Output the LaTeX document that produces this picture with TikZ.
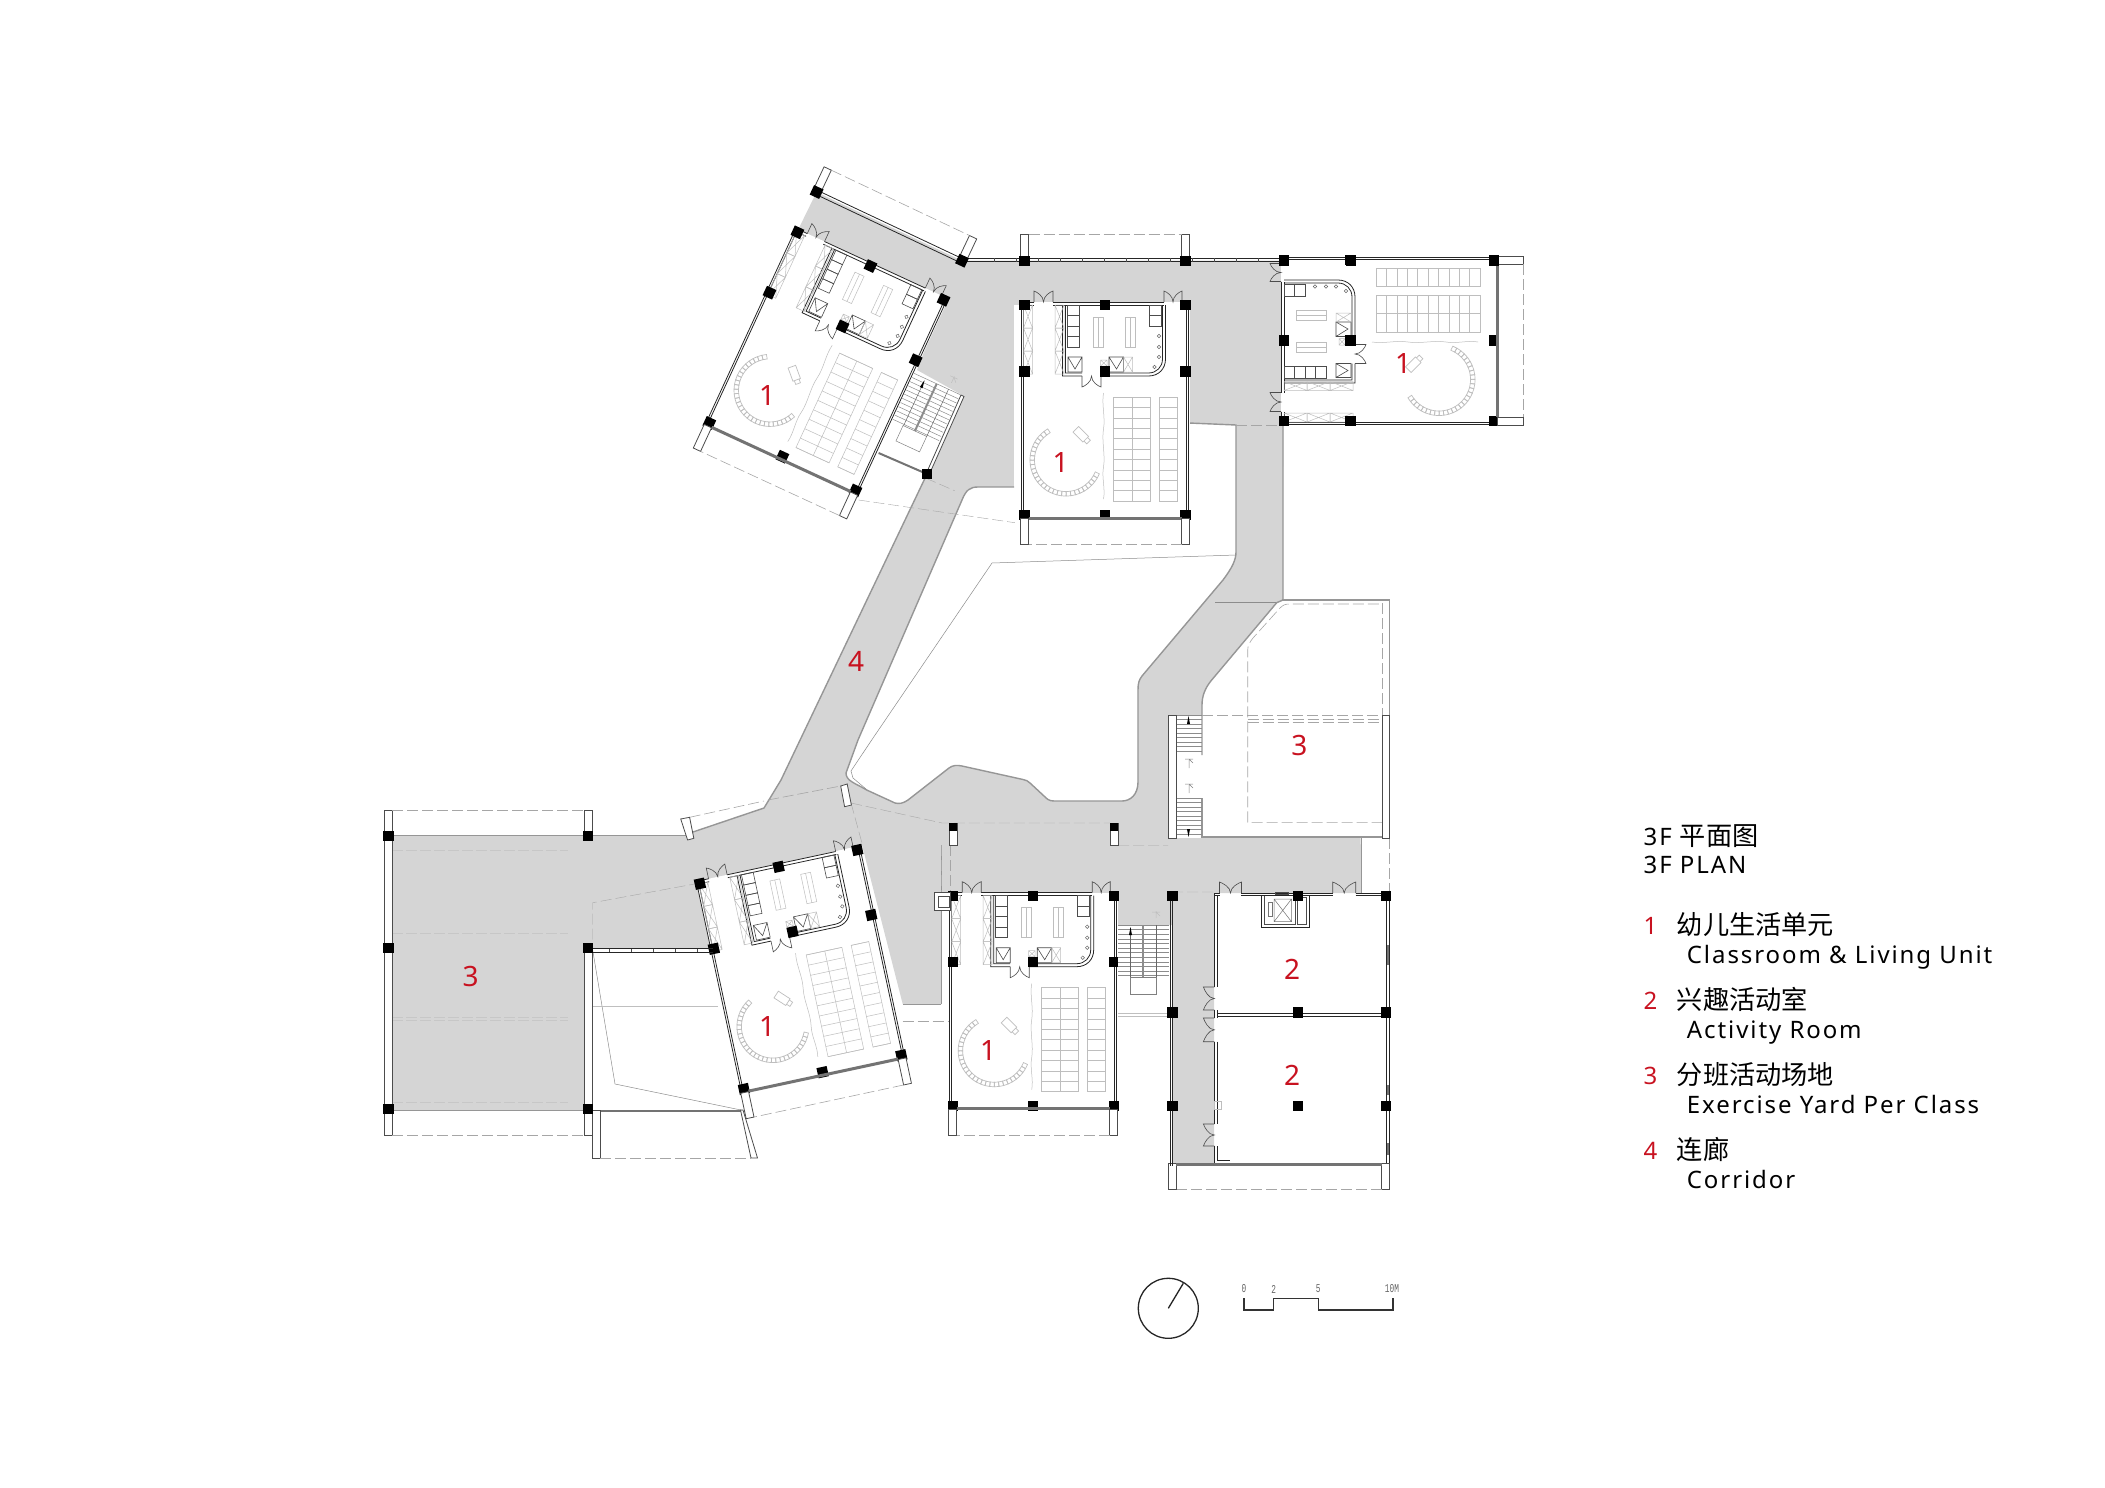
\documentclass[tikz,border=0pt]{standalone}
\usepackage{fontspec}
\setmainfont[LetterSpace=8]{Noto Sans}
\newfontfamily\cjk{Noto Sans CJK SC}
\newfontfamily\scalefont{Liberation Mono}
\definecolor{planred}{RGB}{200,18,32}
\definecolor{corridor}{RGB}{213,213,213}
\definecolor{furn}{RGB}{190,190,190}
\definecolor{edgegray}{RGB}{150,150,150}
\newcommand{\pillar}[2]{\fill[black] (#1-5.2,#2-5.2) rectangle (#1+5.2,#2+5.2);}
\tikzset{
  wall/.style={line width=.8pt,black!85},
  thinwall/.style={line width=.6pt,black!70},
  frame/.style={line width=.8pt,black!70,fill=white},
  fitting/.style={line width=.5pt,furn},
  locker/.style={line width=.6pt,black!70},
  edge/.style={line width=1.4pt,edgegray},
  faint/.style={line width=.5pt,black!45},
  dashline/.style={line width=.6pt,black!35,dash pattern=on 11pt off 4pt},
  yardline/.style={line width=.6pt,black!22,dash pattern=on 11pt off 3pt},
  glaze/.style={line width=3pt,black!55},
  roomno/.style={font=\fontsize{28}{30}\selectfont,text=planred},
  legend/.style={font=\fontsize{24}{28}\selectfont,anchor=base west,inner sep=0pt},
  legendno/.style={legend,text=planred},
  cnname/.style={legend,font=\cjk\fontsize{26.2}{30}\selectfont},
  rulelabel/.style={font=\scalefont\fontsize{12}{12}\selectfont,xscale=.65,transform shape,text=black!60,inner sep=0pt},
  leafpair/.pic={
    \draw[thinwall] (0,0) -- (0,-11) .. controls (3,-10) and (#1/2,-6) .. (#1/2,0)
      .. controls (#1/2,-6) and (#1-3,-10) .. (#1,-11) -- (#1,0);
  },
  balcony/.pic={
    \draw[frame] (-4,0) rectangle (4,-26);
    \draw[frame] (#1-4,0) rectangle (#1+4,-26);
    \draw[dashline] (4,-26) -- (#1-4,-26);
  },
  stairset/.pic={
    \fill[white] (0,0) rectangle (51,69);
    \foreach \y in {0,4.6,...,52}
      \draw[line width=.5pt,black!45] (0,\y) -- (51,\y);
    \draw[line width=.5pt,black!50] (12,52) rectangle (38,69);
    \draw[line width=2pt,black!45] (25,0) -- (25,52);
    \draw[line width=.5pt,black!60] (38,0) -- (38,52);
    \draw[line width=.5pt,black!60] (12.5,3) -- (12.5,52);
    \fill[black] (12.5,2) -- (11,10) -- (14,10) -- cycle;
    \draw[fitting] (38,-7) -- (38,-14) (34,-13) -- (42,-13) (38,-13) -- (42,-9);
  },
  classunit/.pic={
    \fill[white] (-3,-3) rectangle (165,214);
    \draw[wall] (-3,-3) -- (9.5,-3) (28.5,-3) -- (139.5,-3) (157.5,-3) -- (164,-3);
    \draw[wall] (-3,0) -- (9.5,0) (28.5,0) -- (139.5,0) (157.5,0) -- (164,0);
    \pic[transform shape] at (9.5,-3) {leafpair=19};
    \pic[transform shape] at (139.5,-3) {leafpair=18};
    \draw[wall] (-3,-3) -- (-3,214) (-1,0) -- (-1,214);
    \draw[wall] (162,0) -- (162,214) (164,-3) -- (164,214);
    \draw[wall] (38,0) -- (38,71) -- (57.5,71) (76.5,71) -- (124,71) .. controls (134,71) and (141,64) .. (141,54) -- (141,0);
    \draw[wall] (41,0) -- (41,68) -- (57.5,68) (76.5,68) -- (124,68) .. controls (132,68) and (138,62) .. (138,54) -- (138,0);
    \pic[rotate=180,transform shape] at (76.5,71) {leafpair=19};
    \foreach \y in {0,10.5,21,31.5} \draw[locker] (42.5,\y) rectangle (54.5,\y+10.5);
    \foreach \y in {0,10.5} \draw[locker] (125,\y) rectangle (137,\y+10.5);
    \draw[fitting] (69,12) rectangle (79,42) (74,12) -- (74,42);
    \draw[fitting] (100.5,12) rectangle (110.5,42) (105.5,12) -- (105.5,42);
    \draw[locker] (43.5,52) rectangle (57.5,67) (43.5,52) -- (50.5,64) -- (57.5,52);
    \draw[locker] (84.5,52) rectangle (99,67) (84.5,52) -- (92,64) -- (99,52);
    \draw[fitting] (99,52) rectangle (108,67) (99,52) -- (108,67) (99,67) -- (108,52);
    \draw[fitting] (76,55) rectangle (82.5,61) (76,55) -- (82.5,61) (76,61) -- (82.5,55);
    \foreach \y in {31,42,52} \draw[line width=.5pt,black!60] (134.5,\y) circle (1.8);
    \draw[line width=.5pt,black!60] (130,62) circle (1.8);
    \foreach \x in {-1,30.5} {
      \foreach \y in {0,23,46}
        \draw[fitting] (\x,\y) rectangle (\x+9,\y+23) (\x,\y) -- (\x+9,\y+23) (\x,\y+23) -- (\x+9,\y);
    }
    \foreach \y in {92,102.4,...,196} {
      \draw[fitting] (89,\y) -- (125.5,\y);
      \draw[fitting] (135,\y) -- (153,\y);
    }
    \draw[fitting] (89,92) rectangle (125.5,196) (108,92) -- (108,196);
    \draw[fitting] (135,92) rectangle (153,196);
    \draw[fitting] (79,88) .. controls (77,100) and (81,112) .. (79,124) .. controls (77,136) and (81,150) .. (79,162) .. controls (77,172) and (81,184) .. (79,194);
    \draw[fitting,line width=.7pt,shift={(57,130)},rotate=-45] (-8,-4) rectangle (6,4) (6,-2.5) rectangle (10,2.5);
    \foreach \a in {26,33.5,...,237}
      \draw[fitting,line width=.7pt,shift={(41.5,155)},rotate=-\a] (31.5,-2.2) rectangle (36,2.2);
    \foreach \x in {0,80.5,161} {
      \foreach \y in {0,66.5,210} { \pillar{\x}{\y} }
    }
    \draw[glaze] (4,213) -- (157,213);
    \pic[rotate=180,transform shape] at (161,213.5) {balcony=161};
  }
}
\begin{document}
\begin{tikzpicture}[x=1pt,y=-1pt]
  \useasboundingbox (0,0) rectangle (2105,1488);
  \fill[corridor] (816.6,192) -- (962,260.7) -- (1283.6,260.7) -- (1283,600) -- (1276.7,602.7) -- (1211.7,680)
    .. controls (1205,688) and (1202,696) .. (1202,705) -- (1202,715) -- (1168,715) -- (1168,838) -- (1360.7,838)
    -- (1361,893) -- (1214,893) -- (1214,1163) -- (1173,1163) -- (1173,925) -- (1118,925) -- (1116,893) -- (941,893)
    -- (941,1004) -- (902.7,1004) -- (862,845) -- (700,883) -- (713,948) -- (584,948) -- (584,1110) -- (392,1110)
    -- (392,835) -- (688,835) -- (693,832) -- (764,808) -- (781,780) -- (927,474) -- (962,395) -- (917,370)
    -- (943.8,300) -- (797,232) -- cycle;
  \fill[white] (1014,305) -- (1188,305) -- (1189,423) -- (1236,425) -- (1236,552) .. controls (1236,560) and (1232,568) .. (1223,580)
    -- (1142,676) .. controls (1139,680) and (1138,683) .. (1138,690) -- (1138,782) .. controls (1138,795) and (1130,801) .. (1122,801)
    -- (1054,801) .. controls (1049,801) and (1047,799) .. (1044,796) -- (1030,783) .. controls (1028,781) and (1026,780) .. (1023,779.5)
    -- (962,766) .. controls (957,765) and (953,765) .. (949,768) -- (908,800) .. controls (903,803.5) and (899,804) .. (895,803)
    -- (866.7,790) .. controls (855,783) and (846,781) .. (846,773) -- (858,740)
    -- (962,500) .. controls (966,490) and (970,487) .. (978,487) -- (1014,487) -- cycle;
  \draw[edge] (1189,423) -- (1236,425) -- (1236,552) .. controls (1236,560) and (1232,568) .. (1223,580)
    -- (1142,676) .. controls (1139,680) and (1138,683) .. (1138,690) -- (1138,782) .. controls (1138,795) and (1130,801) .. (1122,801)
    -- (1054,801) .. controls (1049,801) and (1047,799) .. (1044,796) -- (1030,783) .. controls (1028,781) and (1026,780) .. (1023,779.5)
    -- (962,766) .. controls (957,765) and (953,765) .. (949,768) -- (908,800) .. controls (903,803.5) and (899,804) .. (895,803)
    -- (866.7,790) .. controls (855,783) and (846,781) .. (846,773) -- (858,740)
    -- (962,500) .. controls (966,490) and (970,487) .. (978,487) -- (1014,487);
  \draw[edge] (781,780) -- (927,474) (693,832) -- (764,808) -- (781,780);
  \draw[edge] (1283,425) -- (1283,600) -- (1276.7,602.7) -- (1211.7,680) .. controls (1205,688) and (1202,696) .. (1202,705) -- (1202,755);
  \draw[edge] (1202,798) -- (1202,837) -- (1382,837);
  \draw[edge] (1281.7,600) -- (1389.3,600) -- (1389.3,715);
  \draw[edge,line width=1pt] (1361,838) -- (1361,893) (392,835) -- (688,835);
  \draw[edge,line width=1pt] (941,1004) -- (902.7,1004) (941,1004) -- (941,845);
  \draw[faint] (1236,555) -- (992,563) -- (871.7,740) -- (851,771) -- (853,778) -- (866,789);
  \draw[faint] (1215,602.7) -- (1276,602.7);
  \draw[faint] (592.7,950) -- (615,1084) -- (741,1110);
  \draw[faint,black!25,line width=.8pt] (592.7,1006.7) -- (717.5,1006.7);
  \draw[faint,black!25,line width=.8pt] (1118,1013) -- (1169,1013) (1118,1016) -- (1169,1016);
  \draw[dashline] (1236,425) -- (1283,425);
  \draw[dashline,line width=.4pt] (858.6,500) -- (1014.8,522.7) (925.5,478) -- (954.6,490.7);
  \draw[dashline,line width=.4pt] (851,803) -- (942,823) -- (957,823) -- (1110,823);
  \draw[dashline,line width=.4pt] (1118,845.7) -- (1168,845.7) (851,803) -- (862.5,845);
  \draw[dashline,line width=.4pt] (950,845) -- (950,893) (941,845) -- (941,893) (902.7,1020.7) -- (950,1020.7);
  \draw[dashline,line width=.4pt] (1172,892) -- (1214,892) (700,883) -- (592.7,902.7) -- (592.7,948);
  \draw[dashline] (689.6,817.3) -- (764,801) (768,800) -- (840.7,786);
  \draw[dashline] (1389,838) -- (1389,893);
  \foreach \y in {850,933.3,1017,1020,1102.7}
    \draw[yardline] (392,\y) -- (568,\y);
  % yard on the right
  \draw[dashline] (1202,715) -- (1382.7,715) (1247.7,719.3) -- (1382.7,719.3) (1247.7,722.7) -- (1382.7,722.7);
  \draw[dashline] (1382.7,603) -- (1382.7,715);
  \draw[dashline] (1382.7,822.3) -- (1247.7,822.3) -- (1247.7,650) .. controls (1247.7,645) and (1250,642) .. (1253,638) -- (1280,608) .. controls (1283,605) and (1285,604) .. (1290,604) -- (1382.7,604);
  \draw[frame] (1168,715) rectangle (1176.7,838);
  \draw[frame] (1382.7,715) rectangle (1389.3,838);
  \foreach \y in {715,719.5,...,755} \draw[line width=.5pt,black!45] (1176.7,\y) -- (1201.7,\y);
  \foreach \y in {798,802.5,...,838} \draw[line width=.5pt,black!45] (1176.7,\y) -- (1201.7,\y);
  \fill[black] (1188.5,716) -- (1187,724) -- (1190,724) -- cycle;
  \fill[black] (1188.5,837) -- (1187,829) -- (1190,829) -- cycle;
  \draw[fitting,black!50] (1189,760) -- (1189,768) (1185,759) -- (1193,759) (1189,759) -- (1193,763);
  \draw[fitting,black!50] (1189,785) -- (1189,793) (1185,784) -- (1193,784) (1189,784) -- (1193,788);
  % classroom units
  \pic[rotate=-24.8] at (797.4,232.3) {classunit};
  \pic at (1024.5,305) {classunit};
  \pic[rotate=90] at (1284,421) {classunit};
  \pic[rotate=12.1] at (699.9,883.7) {classunit};
  \pic at (952.7,895.7) {classunit};
  % stairs
  \pic[rotate=-24.8] at (914,373.3) {stairset};
  \pic at (1118,925) {stairset};
  \draw[frame] (961,395) -- (964,396.5) -- (929,475) -- (926,474) -- cycle;
  \draw[glaze,line width=2pt] (878.6,453) -- (927,474);
  % balconies and facades
  \pic at (1024.5,260.7) {balcony=161};
  \pic[rotate=-25.3] at (816.6,192) {balcony=160.8};
  \pic[rotate=180] at (1385.7,1163) {balcony=213};
  \draw[wall] (816.6,190) -- (962,258.5) (815,194) -- (960,262.5);
  \draw[wall] (962,258) -- (1284,258) (962,261.5) -- (1284,261.5);
  \foreach \x in {994,1016,...,1280} \draw[thinwall] (\x,258) -- (\x,261.5);
  \draw[frame] (384.5,810) rectangle (392,1135);
  \draw[frame] (584,810) rectangle (592.7,836);
  \draw[frame] (584,948) rectangle (592.7,1135);
  \draw[dashline] (392,810) -- (584,810) (392,1135) -- (584,1135);
  \draw[edge,line width=1pt] (392,1110) -- (584,1110);
  \draw[wall] (592.7,948.5) -- (713,948.5) (592.7,952) -- (713,952);
  \foreach \x in {609,631,...,700} \draw[thinwall] (\x,948.5) -- (\x,952);
  \draw[glaze,line width=2pt] (592.7,1111) -- (741,1111);
  \draw[frame] (592.7,1110) rectangle (600.4,1158);
  \draw[frame] (740.5,1110) -- (743,1110) -- (757.5,1158) -- (751,1158) -- cycle;
  \draw[dashline] (600.4,1158) -- (751,1158);
  \draw[frame] (680.7,819) -- (689.6,817.3) -- (693.8,838.3) -- (687.6,840) -- cycle;
  \draw[frame] (840.7,786) -- (847.2,784) -- (851.4,805) -- (844.6,806.7) -- cycle;
  \draw[frame] (949,823) rectangle (957,845.7);
  \draw[frame] (1110,823) rectangle (1118,845.7);
  \draw[frame] (934.5,892.7) rectangle (950.7,910.7);
  \draw[frame] (938,896.7) rectangle (949,907.3);
  \fill[black] (949,823) rectangle (957,831);
  \fill[black] (1110,823) rectangle (1118,831);
  % activity rooms
  \fill[white] (1214.5,895) rectangle (1387,1163);
  \draw[wall] (1170,895) -- (1170,1166) (1172.5,895) -- (1172.5,1166);
  \draw[wall] (1214.4,893) -- (1214.4,987) (1214.4,1010) -- (1214.4,1018) (1214.4,1041.7) -- (1214.4,1124) (1214.4,1146) -- (1214.4,1163) -- (1230,1163);
  \draw[wall] (1217,895) -- (1217,987) (1217,1010) -- (1217,1018) (1217,1041.7) -- (1217,1124) (1217,1146) -- (1217,1160) -- (1230,1160);
  \draw[wall] (1214.4,893) -- (1219.5,893) (1241.4,893) -- (1332.7,893) (1355.7,893) -- (1389,893);
  \draw[wall] (1214.4,895.7) -- (1219.5,895.7) (1241.4,895.7) -- (1332.7,895.7) (1355.7,895.7) -- (1389,895.7);
  \pic at (1219.5,893) {leafpair=22};
  \pic at (1332.7,893) {leafpair=23};
  \pic[rotate=90] at (1214.4,1010) {leafpair=23};
  \pic[rotate=90] at (1214.4,1041.7) {leafpair=23.7};
  \pic[rotate=90] at (1214.4,1146) {leafpair=22};
  \draw[wall] (1217,1013) -- (1386,1013) (1217,1016) -- (1386,1016);
  \draw[wall] (1386.8,895) -- (1386.8,1163) (1389.2,895) -- (1389.2,1163);
  \draw[glaze] (1176,1164.5) -- (1382,1164.5);
  \draw[glaze,line width=2.4pt] (1388,945) -- (1388,965) (1388,1085) -- (1388,1095) (1388,1143) -- (1388,1155);
  \draw[fitting] (1214,1101.7) rectangle (1221,1109);
  \draw[wall] (1261,895.7) -- (1261,927.7) -- (1309.7,927.7) -- (1309.7,895.7);
  \draw[thinwall] (1264.4,895.7) -- (1264.4,924) -- (1295,924) -- (1295,895.7);
  \draw[thinwall] (1297,897) rectangle (1306.7,924);
  \draw[line width=.5pt,black!55] (1274,899) rectangle (1291.5,921.7) (1274,899) -- (1291.5,921.7) (1274,921.7) -- (1291.5,899);
  \draw[line width=.5pt,black!55] (1268.5,902.7) rectangle (1272,916.7);
  \draw[thinwall] (1275,892) rectangle (1288,894.5);
  % columns
  \foreach \x/\y in {388.4/836,588/836,388.4/948,588/948,388.4/1109,588/1109,
    1172.5/895.7,1298/895.7,1385.8/895.7,1172.5/1012.3,1298/1012.3,1385.8/1012.3,
    1172.5/1105.7,1298/1105.7,1385.8/1105.7,1024.5/260.7,1185.5/260.7,1284/260.7,1350.7/260.7,1494/260.7,
    927/474}
    { \pillar{\x}{\y} }
  \begin{scope}[rotate around={-25:(816.6,192)}]
    \pillar{816.6}{192}
  \end{scope}
  \begin{scope}[rotate around={-25:(962,260.7)}]
    \pillar{962}{260.7}
  \end{scope}
  % room numbers
  \node[roomno] (roomA) at (767,396) {1};
  \node[roomno] (roomB) at (1060.7,462) {1};
  \node[roomno] (roomC) at (1403,364) {1};
  \node[roomno] (roomD) at (767,1026) {1};
  \node[roomno] (roomE) at (988,1050) {1};
  \node[roomno] (roomF) at (1292,969) {2};
  \node[roomno] (roomG) at (1292,1075) {2};
  \node[roomno] (roomH) at (470.6,976) {3};
  \node[roomno] (roomI) at (1299.3,745) {3};
  \node[roomno] (roomJ) at (856,661) {4};
  % legend
  \node[legend] (titleA) at (1643.5,845) {3F {\cjk\fontsize{26.2}{30}\selectfont 平面图}};
  \node[legend] (titleB) at (1643.5,873) {3F PLAN};
  \node[legendno] (noA) at (1643.5,934) {1};
  \node[cnname] (cnA) at (1676.7,934) {幼儿生活单元};
  \node[legend] (enA) at (1686.7,963) {Classroom \& Living Unit};
  \node[legendno] (noB) at (1643.5,1009) {2};
  \node[cnname] (cnB) at (1676.7,1009) {兴趣活动室};
  \node[legend] (enB) at (1686.7,1038) {Activity Room};
  \node[legendno] (noC) at (1643.5,1084) {3};
  \node[cnname] (cnC) at (1676.7,1084) {分班活动场地};
  \node[legend] (enC) at (1686.7,1113) {Exercise Yard Per Class};
  \node[legendno] (noD) at (1643.5,1159) {4};
  \node[cnname] (cnD) at (1676.7,1159) {连廊};
  \node[legend] (enD) at (1686.7,1188) {Corridor};
  % north arrow and scale
  \draw[line width=1.3pt,black!85] (1168.3,1308.3) circle (30);
  \draw[line width=1.3pt,black!85] (1168.3,1308.3) -- (1183.3,1283.3);
  \draw[line width=1.1pt,black!80] (1244,1298) -- (1244,1310) -- (1273.7,1310) -- (1273.7,1298.3) -- (1318.3,1298.3) -- (1318.3,1310) -- (1393,1310) -- (1393,1298.3);
  \node[rulelabel] (tickA) at (1244,1289) {0};
  \node[rulelabel] (tickB) at (1273.7,1289) {2};
  \node[rulelabel] (tickC) at (1318.3,1289) {5};
  \node[rulelabel] (tickD) at (1392,1289) {10M};
\end{tikzpicture}
\end{document}
